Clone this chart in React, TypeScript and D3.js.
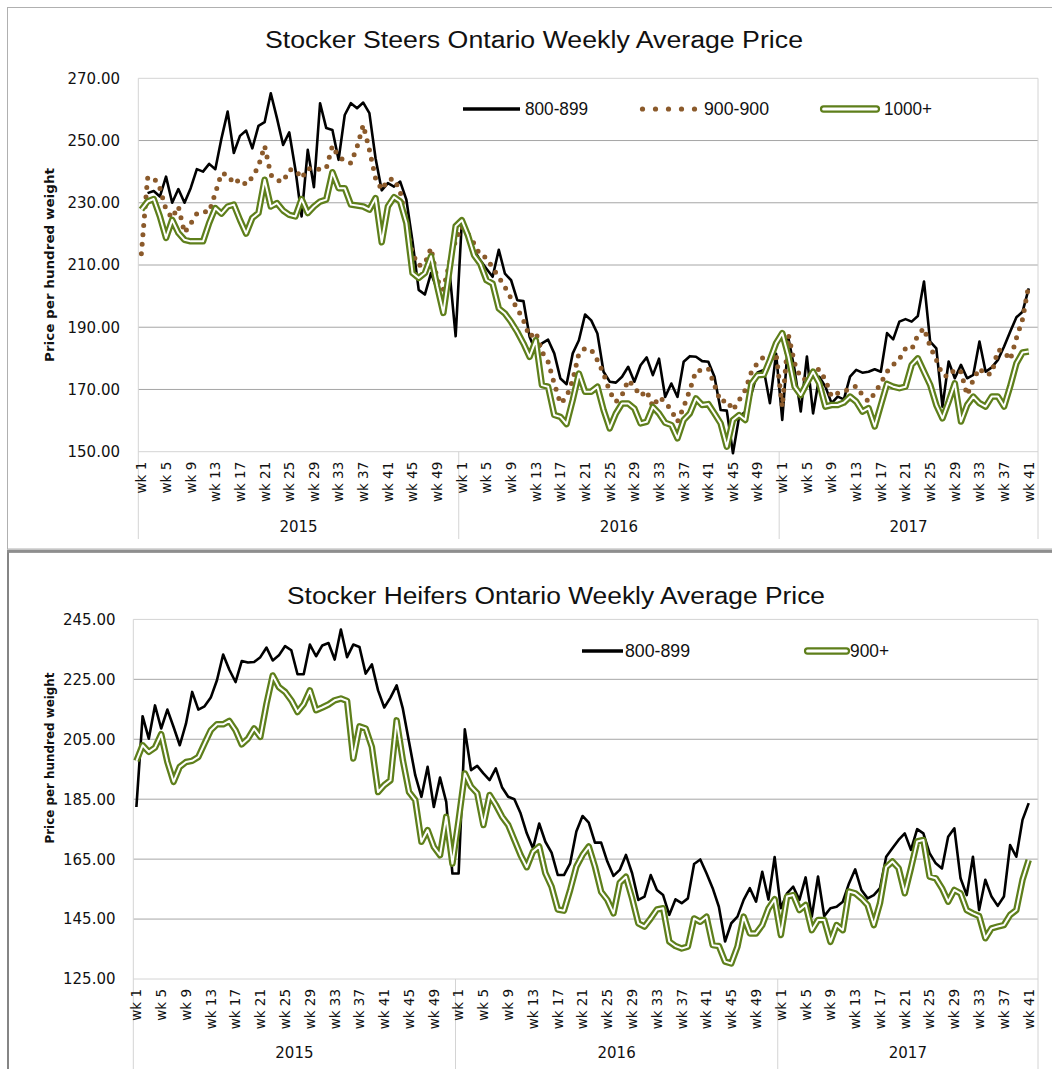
import React from 'react';
import * as d3 from 'd3';

// category axis: weeks grouped by year
const years = ['2015', '2016', '2017'];
const weeksPerYear = [52, 52, 42];

// Stocker steers, $ per hundred weight (2015 wk1 .. 2017 wk41)
const steers800 = [
  null, 233.1, 233.8, 232, 238.4, 230, 234.4, 230, 234.7, 240.8, 240, 242.5, 240.8, 250.7, 259.3, 246, 251.5, 253.2, 247.5, 254.7,
  255.9, 265.2, 257.2, 248.6, 252.6, 240.6, 225.6, 247, 235, 262, 254, 253.4, 243.8, 258.2, 262, 260.4, 262.2, 258.8, 244.3, 234,
  236.3, 235.2, 236.8, 231, 217.6, 202, 200.5, 207.4, 202, 196.7, 208, 187.1,
  224, 219, 214.7, 211.5, 208.8, 206.2, 214.9, 207.2, 205.1, 198.7, 198.4, 186.9, 182.1, 184.8, 186, 181.6, 173.5, 171.7,
  181.6, 185.8, 194.1, 192.2, 188, 175.7, 172.5, 172.2, 174.1, 177.3, 172.5, 177.8, 180.3, 174.6, 179.9, 167.6, 171.9, 167.6,
  178.9, 180.7, 180.5, 179.1, 178.9, 174.1, 163.4, 163.2, 149.5, 161.2, 162.8, 168.7, 175.5, 176.3, 165.6, 181.5,
  160.2, 186.5, 176.3, 162.9, 180.6, 162.3, 174.1, 170.9, 165.6, 167.7, 166.8, 174.1, 176.3, 175.4, 175.7, 176.5, 175.7, 188.1,
  186.1, 191.8, 192.6, 191.8, 193.6, 204.7, 185.4, 183.2, 164.5, 179, 173.6, 177.9, 173.6, 174.7, 185.4, 175.7, 177.1, 179.5,
  183.8, 188.6, 193.2, 195, 202.5,
];
const steers900 = [
  213.6, 237.9, 238.2, 234.7, 227.8, 225.1, 228.8, 220.3, 223.3, 226.5, 227.2, 227, 233.1, 239.5, 239, 236.1, 237.6, 235.8, 238.2, 241.7,
  248.3, 239, 237.2, 236.8, 240.6, 240.6, 237.9, 241.1, 240.6, 240.8, 241.1, 248.3, 244.7, 243.6, 242.7, 247.9, 255, 247, 237.9, 234.2,
  237.4, 237.7, 233.6, 223.5, 213.6, 209.8, 210.4, 215.5, 205.3, 202.1, 210.6, 218.1,
  222.3, 220, 216.8, 213.1, 212.4, 209.1, 206.1, 202.9, 199.2, 196, 192.2, 186.9, 188.5, 182.1, 178.9, 171.9, 165.5, 167.6,
  173, 181.6, 183.2, 182.8, 179.4, 175.1, 169.3, 166, 168.2, 173, 170.8, 167.9, 169.6, 164.4, 167.6, 166, 163.3, 159.6,
  164.4, 169.8, 176, 176.2, 176.7, 171.4, 166, 166.6, 163.3, 166.6, 169.8, 175.7, 178.6, 180.5, 178, 181.6,
  164.4, 187.5, 178.4, 173.6, 173.1, 176.1, 176.5, 173.1, 167.7, 168.8, 169.3, 170.4, 171.1, 168.2, 166.1, 168.8, 172, 175.7,
  177.9, 179.8, 183.2, 182.9, 187.5, 189.7, 183.8, 179.5, 174.7, 174.1, 176.5, 175.7, 168.2, 173.1, 176.8, 174.7, 175.2, 182.7,
  182.2, 179.5, 186.5, 192.6, 203.6,
];
const steers1000 = [
  227.8, 230.4, 231.2, 225.6, 218.7, 224.5, 220.3, 218.1, 217.6, 217.6, 217.6, 223.5, 228.3, 226.5, 228.8, 229.4, 224.5, 220.1, 225.1, 226.7,
  237.4, 228.8, 229.9, 227.5, 226.1, 225.6, 231.2, 226.7, 228.8, 230.4, 231, 239.8, 234.7, 234.7, 229.4, 229.1, 228.8, 227.8, 231.5, 217.3,
  228.8, 231.8, 230.4, 223.5, 207.4, 205.8, 207.4, 212.8, 203.2, 194.6, 208.5, 222.5,
  224.4, 219.5, 213.1, 210.4, 205.1, 204, 196, 194.4, 191.7, 188.5, 184.8, 180.5, 185.8, 171.4, 170.9, 161.8, 161.2, 158.9,
  166.6, 175.1, 169.3, 169.3, 170.9, 163.4, 157.5, 162.3, 165.5, 165.5, 163.9, 159.1, 159.6, 164.4, 162.3, 159.3, 158.6, 154.3,
  160.2, 162.3, 167.1, 165, 165.3, 162.3, 159.1, 151.6, 160.2, 161.8, 160.2, 171.9, 174.6, 174.7, 179.5, 184.9,
  188.1, 180.6, 170.9, 168.2, 172, 175.7, 172, 164.5, 165, 165, 165.8, 167.7, 166.1, 162.9, 164, 158.1, 165, 171.8,
  170.9, 170.4, 170.9, 177.9, 180, 175.7, 171.5, 165, 160.7, 166.1, 172, 159.7, 165, 167.7, 165.6, 164.5, 167.7, 167.7,
  164.5, 171.1, 178.4, 181.9, 182.2,
];

// Stocker heifers
const heifers800 = [
  182.4, 212.7, 205.2, 216.3, 208.6, 214.9, 209.1, 203, 210.2, 220.8, 214.9, 216, 218.9, 224.7, 233.3, 228.2, 224.1, 231.1, 230.6, 230.8,
  232.4, 235.6, 231.3, 233, 236.1, 234.7, 226.7, 226.7, 236.6, 232.7, 236.3, 237.1, 231.6, 241.6, 232.4, 236.6, 235.8, 226.9, 230, 221.3,
  215.6, 218.9, 223, 215.2, 204.1, 193, 185.8, 195.8, 182.4, 192.2, 184.1, 160.2,
  160.2, 208.3, 194.7, 196.1, 193.6, 191.4, 195.3, 189, 185.8, 185, 180.3, 173.6, 168.6, 176.9, 170.8, 167.2, 159.7, 159.7,
  163.6, 174.2, 179.4, 177.2, 170.5, 170.5, 164.2, 159.4, 161.4, 166.4, 160.3, 151.4, 152.5, 159.7, 154.7, 153, 146.4, 151.6,
  150.3, 151.9, 163.4, 164.9, 160.3, 155.3, 149.1, 137.5, 143.6, 145.8, 151.4, 155.3, 150.8, 160.8, 151.5, 165.7,
  148.6, 153.6, 155.8, 151.4, 158.9, 145.8, 159.2, 146, 148.6, 149.1, 150.8, 156.9, 161.6, 154.7, 151.9, 153, 155.3, 165.8,
  168.6, 171.4, 173.6, 168.1, 175, 173.6, 167, 163.6, 161.9, 172.5, 175.3, 158.6, 153, 165.8, 148, 158.1, 152.5, 149.4,
  152.5, 169.7, 165.8, 178.1, 183.7,
];
const heifers900 = [
  197.8, 203, 200.8, 202.2, 206.7, 197.4, 190.8, 195.8, 197.4, 197.8, 199.1, 203.6, 208, 210, 210, 211.1, 208, 203.3, 205.2, 208.6,
  205.8, 216.9, 226.3, 222.4, 220.8, 218, 214.1, 216.7, 221.3, 214.7, 215.6, 216.6, 218, 218.6, 217.8, 198.6, 209.3, 208.6, 202.4, 187.4,
  189.7, 191.3, 211.3, 198, 187.4, 184.7, 170.8, 174.7, 169.1, 166.3, 179.1, 163.5,
  178, 193.6, 189.2, 187, 176.4, 186.4, 183.1, 179.2, 176.4, 171.4, 166.4, 162.3, 167.5, 169.2, 160.3, 155.8, 148.2, 147.8,
  154.7, 162.5, 166.4, 169.2, 162.5, 154.1, 151.4, 146.9, 157.1, 159.1, 151.9, 143.6, 142.5, 145.2, 148.2, 148.6, 137.5, 136,
  135.2, 135.8, 145.2, 144.1, 145.8, 136.3, 136, 130.8, 130.2, 135.8, 145.8, 140.2, 140.2, 143, 148.5, 151.6,
  139.7, 152.5, 153, 148, 149.7, 141.3, 144.7, 144.7, 137.4, 143, 141.3, 154.2, 153.6, 151.9, 149.7, 143, 150.3, 162.3,
  164.2, 162, 153.6, 162, 170.9, 171.4, 159.2, 158.6, 155.3, 150.8, 154.7, 153.6, 148, 146.9, 146, 138.6, 141.9, 142.5,
  143, 146.4, 148, 158.1, 164.7,
];

const steerTicks = [150, 170, 190, 210, 230, 250, 270];
const heiferTicks = [125, 145, 165, 185, 205, 225, 245];

const BLACK = '#000000';
const BROWN = '#8b5a2b';
const GREEN = '#5e7f1b';
const GRID = '#a6a6a6';
const EDGE = '#d4d4d4';
const AXIS_FONT = 'DejaVu Sans, Verdana, sans-serif';
const NARROW_FONT = '"Liberation Sans Narrow", "Arial Narrow", "Liberation Sans", Arial, sans-serif';

// flat list of categories
const categories: { year: string; week: number }[] = [];
years.forEach((y, yi) => {
  for (let w = 1; w <= weeksPerYear[yi]; w++) categories.push({ year: y, week: w });
});

type Kind = 'line' | 'dots' | 'double';
interface Series { name: string; values: (number | null)[]; kind: Kind; }
interface LegendItem { kind: Kind; x1: number; x2: number; tx: number; tw: number; label: string; }

interface PanelProps {
  plot: { left: number; right: number; top: number; bottom: number };
  domain: [number, number];
  ticks: number[];
  tickRight: number;
  axisEnd: number;
  yearY: number;
  title: { text: string; x: number; y: number; w: number };
  yTitle: { x: number; y: number; len: number };
  legendY: number;
  legend: LegendItem[];
  series: Series[];
}

function Mark({ kind, d }: { kind: Kind; d: string }) {
  if (kind === 'line')
    return <path d={d} fill="none" stroke={BLACK} strokeWidth={2.6} strokeLinejoin="round" />;
  if (kind === 'dots')
    return <path d={d} fill="none" stroke={BROWN} strokeWidth={5} strokeDasharray="0 9.5" strokeLinecap="round" strokeLinejoin="round" />;
  return (
    <g>
      <path d={d} fill="none" stroke={GREEN} strokeWidth={6.5} strokeLinejoin="round" />
      <path d={d} fill="none" stroke="#ffffff" strokeWidth={2} strokeLinejoin="round" />
    </g>
  );
}

function Panel(p: PanelProps) {
  const { plot } = p;
  const x = d3.scaleBand<number>().domain(d3.range(categories.length)).range([plot.left, plot.right]).padding(0);
  const cx = (i: number) => (x(i) as number) + x.bandwidth() / 2;
  const y = d3.scaleLinear().domain(p.domain).range([plot.bottom, plot.top]);
  const line = d3.line<number | null>()
    .defined(v => v != null)
    .x((_, i) => cx(i))
    .y(v => y(v as number));

  // year boundaries
  const starts: number[] = [];
  let acc = 0;
  weeksPerYear.forEach(n => { starts.push(acc); acc += n; });
  const bounds = starts.map(s => x(s) as number);

  return (
    <g>
      {/* gridlines */}
      {p.ticks.map((t, k) => (
        <line key={t} x1={plot.left} x2={plot.right} y1={y(t)} y2={y(t)}
          stroke={k === 0 || k === p.ticks.length - 1 ? EDGE : GRID} strokeWidth={1} />
      ))}
      {/* vertical category lines */}
      {[...bounds.slice(1), plot.left].map((bx, k) => (
        <line key={k} x1={bx} x2={bx} y1={k === bounds.length - 1 ? plot.top : plot.bottom} y2={p.axisEnd} stroke={EDGE} />
      ))}
      <line x1={plot.right} x2={plot.right} y1={plot.top} y2={p.axisEnd} stroke={EDGE} />

      {/* y tick labels */}
      {p.ticks.map(t => (
        <text key={t} x={p.tickRight} y={y(t)} dy="0.36em" textAnchor="end" fontFamily={AXIS_FONT} fontSize={15} fill="#111">
          {t.toFixed(2)}
        </text>
      ))}

      {/* x tick labels */}
      {categories.map((c, i) => i % 4 === 0 ? (
        <text key={i} transform={`translate(${cx(i)},${plot.bottom + 10}) rotate(-90)`} textAnchor="end" dy="0.36em"
          fontFamily={AXIS_FONT} fontSize={13.5} fill="#111">{`wk ${c.week}`}</text>
      ) : null)}

      {/* year labels */}
      {years.map((yr, k) => {
        const a = bounds[k];
        const b = k + 1 < bounds.length ? bounds[k + 1] : plot.right;
        return (
          <text key={yr} x={(a + b) / 2} y={p.yearY} dy="0.36em" textAnchor="middle" fontFamily={AXIS_FONT} fontSize={15} fill="#111">{yr}</text>
        );
      })}

      {/* titles */}
      <text x={p.title.x} y={p.title.y} dy="0.36em" textAnchor="middle" fontFamily={NARROW_FONT} fontSize={23}
        textLength={p.title.w} lengthAdjust="spacingAndGlyphs" fill="#111">{p.title.text}</text>
      <text transform={`translate(${p.yTitle.x},${p.yTitle.y}) rotate(-90)`} textAnchor="middle" dy="0.36em"
        fontFamily={AXIS_FONT} fontSize={12.5} fontWeight="bold" textLength={p.yTitle.len} lengthAdjust="spacingAndGlyphs"
        fill="#111">Price per hundred weight</text>

      {/* series */}
      {p.series.map(s => <Mark key={s.name} kind={s.kind} d={line(s.values) || ''} />)}

      {/* legend */}
      {p.legend.map(l => (
        <g key={l.label}>
          {l.kind === 'line' && <line x1={l.x1} x2={l.x2} y1={p.legendY} y2={p.legendY} stroke={BLACK} strokeWidth={3.5} />}
          {l.kind === 'dots' && d3.range(5).map(k => (
            <circle key={k} cx={l.x1 + k * (l.x2 - l.x1) / 4} cy={p.legendY} r={2.6} fill={BROWN} />
          ))}
          {l.kind === 'double' && (
            <rect x={l.x1} y={p.legendY - 2.6} width={l.x2 - l.x1} height={5.2} rx={2.6} fill="#fff" stroke={GREEN} strokeWidth={2.2} />
          )}
          <text x={l.tx} y={p.legendY} dy="0.36em" fontFamily={NARROW_FONT} fontSize={18} textLength={l.tw}
            lengthAdjust="spacingAndGlyphs" fill="#111">{l.label}</text>
        </g>
      ))}
    </g>
  );
}

export default function App() {
  return (
    <svg width={1052} height={1069} style={{ position: 'absolute', left: 0, top: 0, background: '#fff' }}>
      <rect x={0} y={0} width={1052} height={1069} fill="#fff" />
      {/* panel frames */}
      <rect x={7.5} y={7.5} width={1060} height={541.5} fill="none" stroke="#b0b0b0" strokeWidth={1} />
      <rect x={8} y={551.5} width={1060} height={540} fill="none" stroke="#858585" strokeWidth={2} />
      <line x1={7} x2={1052} y1={551.2} y2={551.2} stroke="#8e8e8e" strokeWidth={3} />

      <Panel
        plot={{ left: 138.3, right: 1038, top: 78.3, bottom: 451.7 }}
        domain={[150, 270]}
        ticks={steerTicks}
        tickRight={120}
        axisEnd={539}
        yearY={527}
        title={{ text: 'Stocker Steers Ontario Weekly Average Price', x: 534, y: 40, w: 538 }}
        yTitle={{ x: 49, y: 265, len: 194 }}
        legendY={109}
        legend={[
          { kind: 'line', x1: 463, x2: 520, tx: 525, tw: 63, label: '800-899' },
          { kind: 'dots', x1: 642.5, x2: 694.5, tx: 704, tw: 65, label: '900-900' },
          { kind: 'double', x1: 821, x2: 879, tx: 884, tw: 48, label: '1000+' },
        ]}
        series={[
          { name: '800-899', values: steers800, kind: 'line' },
          { name: '900-900', values: steers900, kind: 'dots' },
          { name: '1000+', values: steers1000, kind: 'double' },
        ]}
      />

      <Panel
        plot={{ left: 133.3, right: 1038, top: 619.4, bottom: 979 }}
        domain={[125, 245]}
        ticks={heiferTicks}
        tickRight={115.5}
        axisEnd={1069}
        yearY={1053}
        title={{ text: 'Stocker Heifers Ontario Weekly Average Price', x: 556, y: 596, w: 538 }}
        yTitle={{ x: 49, y: 758, len: 171 }}
        legendY={651}
        legend={[
          { kind: 'line', x1: 582, x2: 623, tx: 625, tw: 65, label: '800-899' },
          { kind: 'double', x1: 805, x2: 849, tx: 850, tw: 39, label: '900+' },
        ]}
        series={[
          { name: '800-899', values: heifers800, kind: 'line' },
          { name: '900+', values: heifers900, kind: 'double' },
        ]}
      />
    </svg>
  );
}
